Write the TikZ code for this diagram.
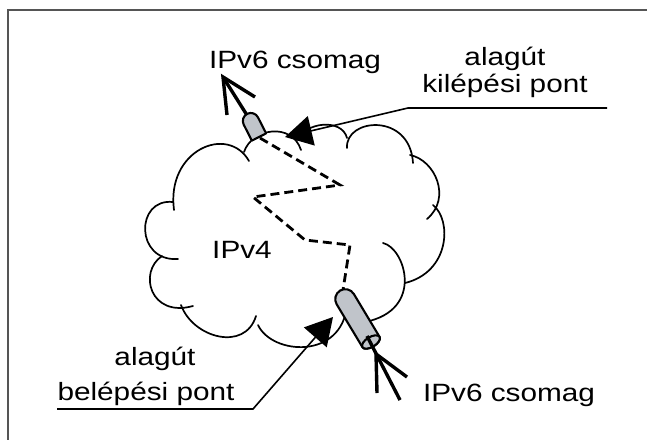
\documentclass[tikz,border=0pt]{standalone}
\usepackage{fontspec}
\setmainfont{Liberation Sans}
\newfontfamily\labelfont[FakeStretch=1.19]{Liberation Sans}
\usetikzlibrary{arrows.meta}
\definecolor{framegray}{RGB}{85,85,85}
\definecolor{tubefill}{RGB}{192,196,202}
\begin{document}
\begin{tikzpicture}[x=1pt,y=-1pt,
  frameline/.style={draw=framegray, line width=1.5pt},
  cloudline/.style={draw=black, line width=1.7pt, line cap=round},
  tunnel/.style={draw=black, line width=2.8pt, dash pattern=on 9pt off 5pt},
  tube/.style={draw=black, fill=tubefill, line width=2.1pt, line join=round},
  packet/.style={draw=black, line width=3.4pt, line join=miter},
  pointer/.style={draw=black, line width=1.6pt, -{Triangle[length=27pt,width=30pt]}},
  lbl/.style={font=\labelfont\fontsize{25}{30}\selectfont, anchor=base, inner sep=0pt, text=black}
]
\useasboundingbox (0,0) rectangle (647,439);

% open frame
\draw[frameline] (8,441) -- (8,10) -- (649,10);

% IPv4 cloud, one arc per puff
\draw[cloudline] (174,210) .. controls (166,150) and (228,124) .. (249,161);
\draw[cloudline] (244,152) .. controls (252,128) and (292,122) .. (301,150);
\draw[cloudline] (298,140) .. controls (305,122) and (342,118) .. (347,138);
\draw[cloudline] (347,148) .. controls (345,118) and (410,112) .. (413,163);
\draw[cloudline] (410,155) .. controls (435,160) and (452,198) .. (427,219);
\draw[cloudline] (433,205) .. controls (452,220) and (450,272) .. (405,283);
\draw[cloudline] (383,243) .. controls (405,248) and (425,310) .. (365,322);
\draw[cloudline] (258,325) .. controls (272,355) and (342,360) .. (347,305);
\draw[cloudline] (181,305) .. controls (193,338) and (245,352) .. (256,316);
\draw[cloudline] (162,256) .. controls (138,272) and (150,318) .. (193,306);
\draw[cloudline] (173,202) .. controls (135,198) and (135,262) .. (178,259);

% tunnel through the IPv4 network
\coordinate (t0) at (260,138);
\coordinate (t1) at (340,185);
\coordinate (t2) at (253,197);
\coordinate (t3) at (305,240);
\coordinate (t4) at (350,245);
\coordinate (t5) at (343,290);
\draw[tunnel] (t0) -- (t1) -- (t2) -- (t3) -- (t4) -- (t5);

% outgoing packet arrow
\coordinate (outTip) at (223,77);
\coordinate (outArmA) at (255,97);
\coordinate (outArmB) at (227,115);
\coordinate (outBase) at (250,120);
\draw[packet] (outArmA) -- (outTip) -- (outArmB);
\draw[packet] (outBase) -- (outTip);

% tunnel exit tube
\begin{scope}[shift={(259,137)}, rotate=117]
  \draw[tube] (0,-8) -- (18,-8) arc[start angle=-90, end angle=90, radius=8] -- (0,8) -- cycle;
\end{scope}

% tunnel entry tube
\begin{scope}[shift={(371,342)}, rotate=121]
  \draw[tube] (0,-10) -- (50,-10) arc[start angle=-90, end angle=90, radius=10]
    -- (0,10) arc[start angle=90, end angle=270, x radius=5, y radius=10] -- cycle;
  \draw[tube] (0,0) ellipse[x radius=5, y radius=10];
\end{scope}

% incoming packet arrow
\coordinate (inTip) at (376,354);
\coordinate (inArmA) at (377,393);
\coordinate (inArmB) at (407,377);
\coordinate (inTail) at (400,400);
\coordinate (inHead) at (367,336);
\draw[packet] (inArmA) -- (inTip) -- (inArmB);
\draw[packet] (inTail) -- (inHead);

% label pointers
\coordinate (exitTip) at (285,137);
\coordinate (exitBend) at (408,108);
\coordinate (exitEnd) at (607,108);
\draw[pointer] (exitEnd) -- (exitBend) -- (exitTip);
\coordinate (entryTip) at (333,317);
\coordinate (entryBend) at (253,409);
\coordinate (entryEnd) at (57,409);
\draw[pointer] (entryEnd) -- (entryBend) -- (entryTip);

% labels
\node[lbl] (pktOut) at (295,68) {IPv6 csomag};
\node[lbl] (exitL1) at (505,65) {alagút};
\node[lbl] (exitL2) at (505,92) {kilépési pont};
\node[lbl] (net) at (242,258) {IPv4};
\node[lbl] (entryL1) at (155,365) {alagút};
\node[lbl] (entryL2) at (146,400) {belépési pont};
\node[lbl] (pktIn) at (509,401) {IPv6 csomag};
\end{tikzpicture}
\end{document}
